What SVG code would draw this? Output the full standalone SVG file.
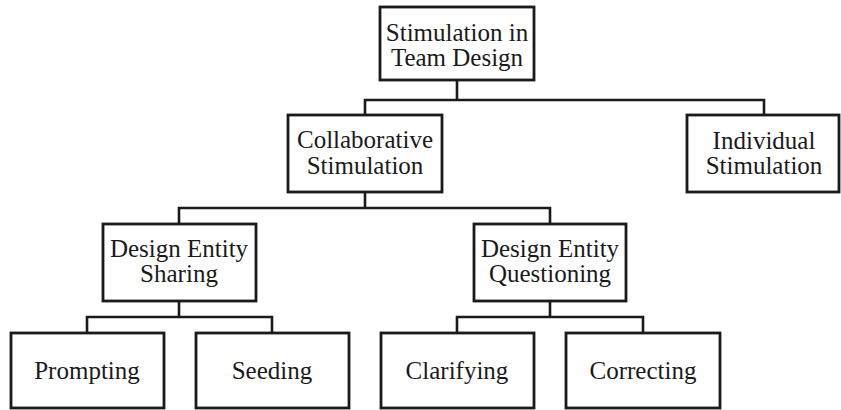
<svg xmlns="http://www.w3.org/2000/svg" width="841" height="410" viewBox="0 0 841 410">
<style>
.box{fill:#fff;stroke:#1a1a1a;stroke-width:2.8}
.t{font-family:"Liberation Serif","Times New Roman",serif;font-size:25px;fill:#1a1a1a;text-anchor:middle}
.c{fill:none;stroke:#1a1a1a;stroke-width:2.6;stroke-linejoin:miter}
</style>
<rect width="841" height="410" fill="#fff"/>
<g id="connectors">
<path class="c" d="M457,80 V100 M365,115 V100 H764 V115"/>
<path class="c" d="M365,192 V208 M179,224 V208 H550 V224"/>
<path class="c" d="M179,301 V317 M87,333 V317 H272 V333"/>
<path class="c" d="M550,301 V317 M457,333 V317 H643 V333"/>
</g>
<g id="root">
<rect class="box" x="380" y="7" width="154" height="73"/>
<text class="t" x="457" y="41">Stimulation in</text>
<text class="t" x="457" y="66">Team Design</text>
</g>
<g id="collaborative">
<rect class="box" x="288" y="115" width="154" height="77"/>
<text class="t" x="365" y="148">Collaborative</text>
<text class="t" x="365" y="174">Stimulation</text>
</g>
<g id="individual">
<rect class="box" x="687" y="115" width="152" height="77"/>
<text class="t" x="764" y="149">Individual</text>
<text class="t" x="764" y="174">Stimulation</text>
</g>
<g id="sharing">
<rect class="box" x="103" y="224" width="153" height="77"/>
<text class="t" x="179" y="257">Design Entity</text>
<text class="t" x="179" y="282">Sharing</text>
</g>
<g id="questioning">
<rect class="box" x="474" y="224" width="152" height="77"/>
<text class="t" x="550" y="257">Design Entity</text>
<text class="t" x="550" y="282">Questioning</text>
</g>
<g id="prompting">
<rect class="box" x="11" y="333" width="153" height="75"/>
<text class="t" x="87" y="379">Prompting</text>
</g>
<g id="seeding">
<rect class="box" x="196" y="333" width="153" height="75"/>
<text class="t" x="272" y="379">Seeding</text>
</g>
<g id="clarifying">
<rect class="box" x="381" y="333" width="153" height="75"/>
<text class="t" x="457" y="379">Clarifying</text>
</g>
<g id="correcting">
<rect class="box" x="566" y="333" width="154" height="75"/>
<text class="t" x="643" y="379">Correcting</text>
</g>
</svg>
